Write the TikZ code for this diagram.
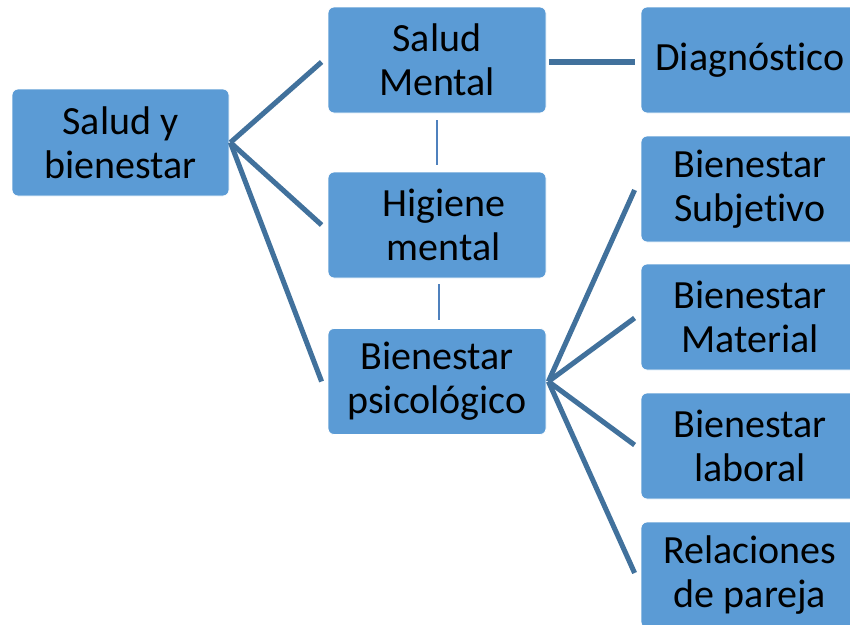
\documentclass[tikz,border=0pt]{standalone}
\usepackage{fontspec}
\setmainfont[RawFeature=-liga]{Carlito}
\definecolor{boxfill}{HTML}{5B9BD5}
\definecolor{linkcol}{HTML}{41719C}
\definecolor{thincol}{HTML}{4F81BD}
\begin{document}
\begin{tikzpicture}[x=0.75pt,y=-0.75pt,
  box/.style={draw=white, line width=0.6pt, fill=boxfill, rounded corners=4.5pt,
    minimum width=163.5pt, minimum height=79.5pt, align=center, inner sep=0pt,
    font=\fontsize{30pt}{33pt}\selectfont},
  link/.style={draw=linkcol, line width=3.8pt},
  thin/.style={draw=thincol, line width=1.3pt}]
\clip (0,0) rectangle (850,625);
\node[box, minimum width=162.75pt, minimum height=80.25pt] (sb) at (120.5,142.5) {Salud y\\bienestar};
\node[box] (sm) at (437,60) {Salud\\Mental};
\node[box] (hm) at (437,225) {\hspace*{10pt}Higiene\\\hspace*{10pt}mental};
\node[box] (bp) at (437,381.5) {Bienestar\\psicológico};
\node[box] (dg) at (750,60) {Diagnóstico};
\node[box] (bs) at (750,189) {Bienestar\\Subjetivo};
\node[box] (bm) at (750,317) {Bienestar\\Material};
\node[box] (bl) at (750,446) {Bienestar\\laboral};
\node[box] (rp) at (750,575) {Relaciones\\de pareja};
\coordinate (sbo) at ([xshift=0.75pt]sb.east);
\coordinate (bpo) at ([xshift=1.5pt]bp.east);
\draw[link] (sbo) -- ([xshift=-4.5pt,yshift=-1.5pt]sm.west);
\draw[link] (sbo) -- ([xshift=-4.5pt]hm.west);
\draw[link] (sbo) -- ([xshift=-4.5pt]bp.west);
\draw[link] ([xshift=2.25pt,yshift=-1.5pt]sm.east) -- ([xshift=-4.5pt,yshift=-1.5pt]dg.west);
\draw[link] (bpo) -- ([xshift=-4.5pt,yshift=-0.75pt]bs.west);
\draw[link] (bpo) -- ([xshift=-4.5pt,yshift=-0.75pt]bm.west);
\draw[link] (bpo) -- ([xshift=-4.5pt,yshift=0.75pt]bl.west);
\draw[link] (bpo) -- ([xshift=-4.5pt,yshift=1.5pt]rp.west);
\draw[thin] ([yshift=-5pt]sm.south) -- ([yshift=5pt]hm.north);
\draw[thin] ([xshift=1.5pt,yshift=-4.5pt]hm.south) -- ([xshift=1.5pt,yshift=6pt]bp.north);
\end{tikzpicture}
\end{document}
